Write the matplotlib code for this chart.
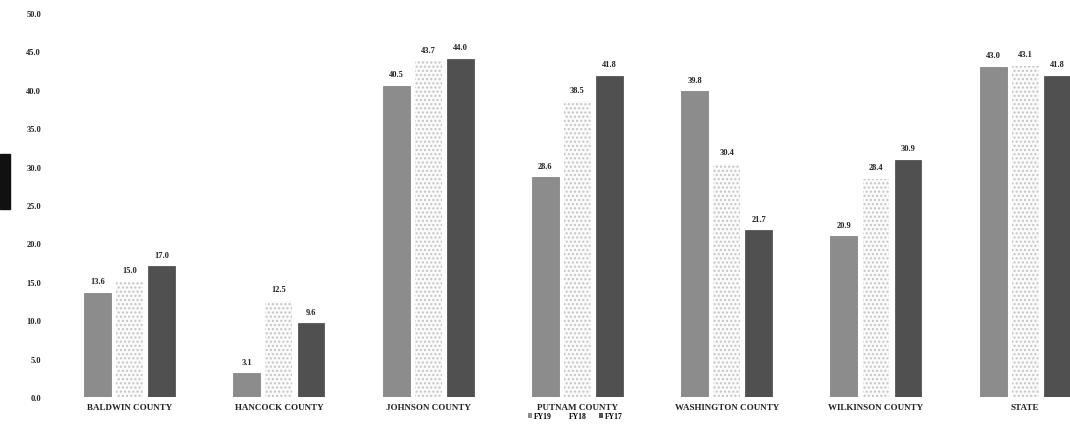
import matplotlib
matplotlib.use("Agg")
import matplotlib.pyplot as plt
import numpy as np
from matplotlib.patches import Rectangle, Patch

categories = ["BALDWIN COUNTY", "HANCOCK COUNTY", "JOHNSON COUNTY", "PUTNAM COUNTY",
              "WASHINGTON COUNTY", "WILKINSON COUNTY", "STATE"]
fy19 = [13.6, 3.1, 40.5, 28.6, 39.8, 20.9, 43.0]
fy18 = [15.0, 12.5, 43.7, 38.5, 30.4, 28.4, 43.1]
fy17 = [17.0, 9.6, 44.0, 41.8, 21.7, 30.9, 41.8]
series_names = ["FY19", "FY18", "FY17"]
yticks = [0, 5, 10, 15, 20, 25, 30, 35, 40, 45, 50]

plt.rcParams['font.family'] = ['Liberation Serif', 'DejaVu Serif']

fig = plt.figure(figsize=(10.7, 4.27), dpi=100)
ax = fig.add_axes([55/1070, 29/427, (1070-55)/1070, (398-14)/427])

x = np.arange(len(categories))
w = 0.18
pitch = 0.215
c19 = "#8c8c8c"
c18 = "#fbfbfb"
c17 = "#505050"

b1 = ax.bar(x - pitch, fy19, w, color=c19, edgecolor="#7a7a7a", linewidth=0.5)
b2 = ax.bar(x, fy18, w, color=c18, edgecolor="#c4c4c4", hatch="....", linewidth=0)
b3 = ax.bar(x + pitch, fy17, w, color=c17, edgecolor="#444444", linewidth=0.5)

for bars, vals in [(b1, fy19), (b2, fy18), (b3, fy17)]:
    for r, v in zip(bars, vals):
        ax.text(r.get_x() + r.get_width() / 2, v + 1.0, f"{v:.1f}", ha="center", va="bottom",
                fontsize=6, fontweight="bold", color="#222222")

ax.set_xlim(-0.5, 6.3)
ax.set_ylim(0, 50)
ax.set_yticks(yticks)
ax.set_yticklabels([f"{t:.1f}" for t in yticks], fontsize=6, fontweight="bold", color="#222222")
ax.tick_params(axis="y", length=0, pad=10)
ax.set_xticks(x)
ax.set_xticklabels(categories, fontsize=6.5, fontweight="bold", color="#222222")
ax.tick_params(axis="x", length=0, pad=4)
for s in ax.spines.values():
    s.set_visible(False)

fig.patches.append(Rectangle((0, 217/427), 10/1070, 55/427, transform=fig.transFigure,
                             color="#111111", zorder=5))

handles = [Patch(facecolor=c19), Patch(facecolor="white", edgecolor="white"), Patch(facecolor=c17)]
fig.legend(handles, series_names, loc="center", bbox_to_anchor=(575/1070, 10/427), ncol=3,
           frameon=False, handlelength=0.6, handleheight=0.6, handletextpad=0.2,
           columnspacing=1.5, prop={'weight': 'bold', 'size': 5.5})

fig.savefig("out.png", dpi=100)
